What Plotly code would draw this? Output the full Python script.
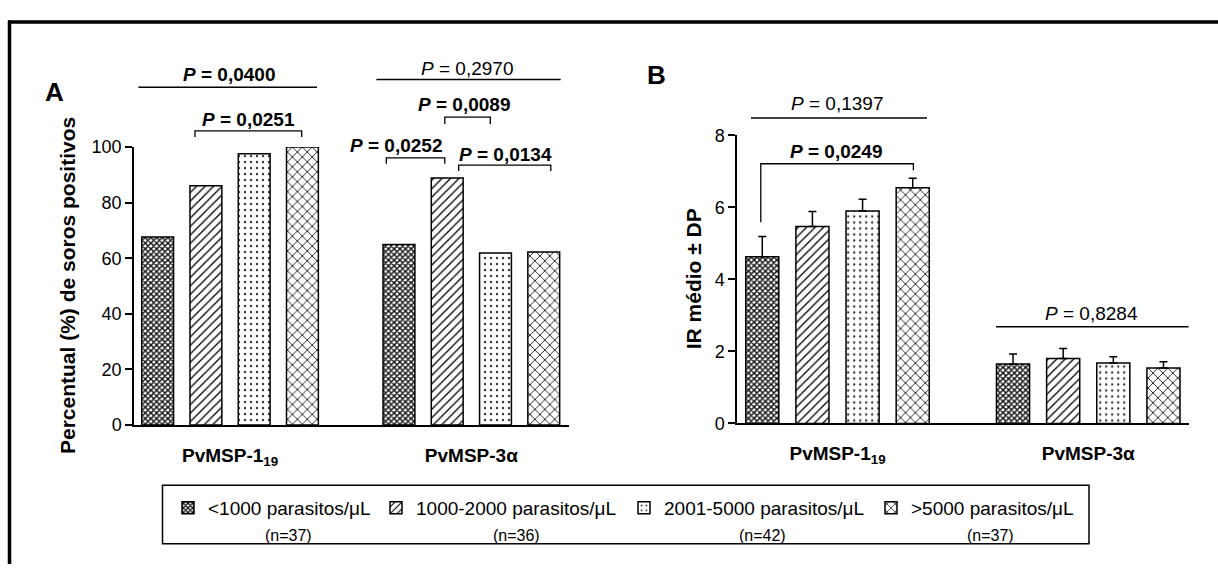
import plotly.graph_objects as go

W, H = 1218, 574
FONT = "Liberation Sans, Arial, sans-serif"


def px(x):
    return x / W


def py(y):
    return 1 - y / H


# ---------------- data ----------------
antigens = ["PvMSP-1<sub>19</sub>", "PvMSP-3α"]
series_names = ["<1000 parasitos/μL", "1000-2000 parasitos/μL",
                "2001-5000 parasitos/μL", ">5000 parasitos/μL"]
n_labels = ["(n=37)", "(n=36)", "(n=42)", "(n=37)"]

# Panel A: percentage of positive sera
pct_lt1000 = [67.6, 64.9]
pct_1000_2000 = [86.1, 88.9]
pct_2001_5000 = [97.6, 61.9]
pct_gt5000 = [100.0, 62.2]

# Panel B: mean reactivity index (IR) and SD
ir_lt1000 = [4.63, 1.65]
ir_1000_2000 = [5.47, 1.80]
ir_2001_5000 = [5.90, 1.68]
ir_gt5000 = [6.55, 1.54]
sd_lt1000 = [0.56, 0.28]
sd_1000_2000 = [0.42, 0.28]
sd_2001_5000 = [0.33, 0.17]
sd_gt5000 = [0.26, 0.17]

ticks_A = [0, 20, 40, 60, 80, 100]
ticks_B = [0, 2, 4, 6, 8]

pct_series = [pct_lt1000, pct_1000_2000, pct_2001_5000, pct_gt5000]
ir_series = [ir_lt1000, ir_1000_2000, ir_2001_5000, ir_gt5000]
sd_series = [sd_lt1000, sd_1000_2000, sd_2001_5000, sd_gt5000]

# ---------------- styles ----------------
patterns = [
    dict(shape="x", size=4, solidity=0.6, fgcolor="#111111"),
    dict(shape="/", size=6, solidity=0.22, fgcolor="black"),
    dict(shape=".", size=6, solidity=0.12, fgcolor="#333333"),
    dict(shape="x", size=7, solidity=0.22, fgcolor="black"),
]
legend_keys = ["legend", "legend2", "legend3", "legend4"]
legend_x_px = [168, 376, 624, 871]
n_x_px = [288, 516, 762, 990]

fig = go.Figure()
xcat = [0, 1]
for i in range(4):
    pat = dict(bgcolor="white", fillmode="replace", **patterns[i])
    fig.add_trace(go.Bar(
        x=xcat, y=pct_series[i], name=series_names[i],
        marker=dict(color="white", pattern=pat, line=dict(color="black", width=1.5)),
        xaxis="x", yaxis="y", legend=legend_keys[i], showlegend=True,
        hoverinfo="skip",
    ))
    fig.add_trace(go.Bar(
        x=xcat, y=ir_series[i], name=series_names[i],
        marker=dict(color="white", pattern=pat, line=dict(color="black", width=1.5)),
        error_y=dict(type="data", array=sd_series[i], arrayminus=[0] * len(sd_series[i]),
                     symmetric=False, color="black", thickness=1.5, width=4),
        xaxis="x2", yaxis="y2", showlegend=False, hoverinfo="skip",
    ))

axis_common = dict(showgrid=False, zeroline=False, showline=True, linecolor="black",
                   linewidth=1.5, color="black", fixedrange=True)

fig.update_layout(
    width=W, height=H,
    margin=dict(l=0, r=0, t=0, b=0),
    paper_bgcolor="white", plot_bgcolor="white",
    barmode="group", bargap=0.2, bargroupgap=0.34,
    font=dict(family=FONT, color="black", size=16),
    xaxis=dict(domain=[px(134), px(568.6)], range=[-0.398, 1.403], anchor="y",
               tickmode="array", tickvals=xcat, ticktext=antigens,
               ticks="outside", ticklen=12, tickcolor="rgba(0,0,0,0)",
               tickfont=dict(family=FONT, size=19, color="black", weight="bold"),
               **axis_common),
    yaxis=dict(domain=[py(430), py(142)], range=[0, 100], anchor="x",
               tickmode="array", tickvals=ticks_A, ticks="outside", ticklen=7, tickwidth=1.5,
               tickcolor="black", tickfont=dict(family=FONT, size=18, color="black"),
               **axis_common),
    xaxis2=dict(domain=[px(737.2), px(1189.3)], range=[-0.4, 1.403], anchor="y2",
                tickmode="array", tickvals=xcat, ticktext=antigens,
                ticks="outside", ticklen=12, tickcolor="rgba(0,0,0,0)",
                tickfont=dict(family=FONT, size=19, color="black", weight="bold"),
                **axis_common),
    yaxis2=dict(domain=[py(428.3), py(130)], range=[0, 8], anchor="x2",
                tickmode="array", tickvals=ticks_B, ticks="outside", ticklen=7, tickwidth=1.5,
                tickcolor="black", tickfont=dict(family=FONT, size=18, color="black"),
                **axis_common),
)

for i, key in enumerate(legend_keys):
    fig.update_layout(**{key: dict(
        x=px(legend_x_px[i]), y=py(516), xanchor="left", yanchor="middle",
        orientation="h", bgcolor="rgba(0,0,0,0)", borderwidth=0, itemwidth=30,
        font=dict(family=FONT, size=19, color="black"),
        itemclick=False, itemdoubleclick=False,
    )})

shapes = []


def hline(x1, x2, y, w=1.5):
    shapes.append(dict(type="line", xref="paper", yref="paper",
                       x0=px(x1), x1=px(x2), y0=py(y), y1=py(y),
                       line=dict(color="black", width=w)))


def bracket(x1, x2, ytop, yb1, yb2, w=1.3):
    path = (f"M {px(x1)},{py(yb1)} L {px(x1)},{py(ytop)} "
            f"L {px(x2)},{py(ytop)} L {px(x2)},{py(yb2)}")
    shapes.append(dict(type="path", xref="paper", yref="paper", path=path,
                       line=dict(color="black", width=w)))


# frame
shapes.append(dict(type="line", xref="paper", yref="paper", x0=px(8), x1=1,
                   y0=py(12.5), y1=py(12.5), line=dict(color="black", width=3.5)))
shapes.append(dict(type="line", xref="paper", yref="paper", x0=px(9.5), x1=px(9.5),
                   y0=py(11), y1=0, line=dict(color="black", width=3.5)))
# legend box
shapes.append(dict(type="rect", xref="paper", yref="paper", x0=px(162.5), x1=px(1089),
                   y0=py(553), y1=py(492.5), line=dict(color="black", width=1.5)))

# Panel A significance marks
hline(138.4, 317, 80)
bracket(195, 301.7, 125.3, 131.7, 131.7)
hline(376.4, 560.7, 72)
bracket(444.8, 490.3, 111, 118, 118)
bracket(386.3, 444.8, 153.3, 159.3, 159.3)
bracket(458.7, 550.8, 160.7, 166.7, 166.7)
# Panel B significance marks
hline(751, 927, 112)
bracket(760.8, 913.4, 159.3, 220, 166)
hline(996, 1188.5, 328.3)

fig.update_layout(shapes=shapes)

annotations = []


def ann(text, x, y, size, bold=False, angle=0):
    annotations.append(dict(
        text=f"<b>{text}</b>" if bold else text, x=px(x), y=py(y),
        xref="paper", yref="paper", xanchor="center", yanchor="middle",
        showarrow=False, textangle=angle,
        font=dict(family=FONT, size=size, color="black")))


ann("A", 54, 85, 26, bold=True)
ann("B", 656, 67, 26, bold=True)
ann("Percentual (%) de soros positivos", 67, 286, 21, bold=True, angle=-90)
ann("IR médio ± DP", 693, 279, 21, bold=True, angle=-90)

ann("<i>P</i> = 0,0400", 228.5, 67, 19, bold=True)
ann("<i>P</i> = 0,0251", 248, 113, 19, bold=True)
ann("<i>P</i> = 0,2970", 466.7, 61, 19)
ann("<i>P</i> = 0,0089", 464, 98, 19, bold=True)
ann("<i>P</i> = 0,0252", 396, 140, 19, bold=True)
ann("<i>P</i> = 0,0134", 505, 150, 19, bold=True)
ann("<i>P</i> = 0,1397", 836.5, 97, 19)
ann("<i>P</i> = 0,0249", 836, 147, 19, bold=True)
ann("<i>P</i> = 0,8284", 1091, 314, 19)

for i, lab in enumerate(n_labels):
    ann(lab, n_x_px[i], 544, 16)

fig.update_layout(annotations=annotations)

fig.write_html("out.html")
